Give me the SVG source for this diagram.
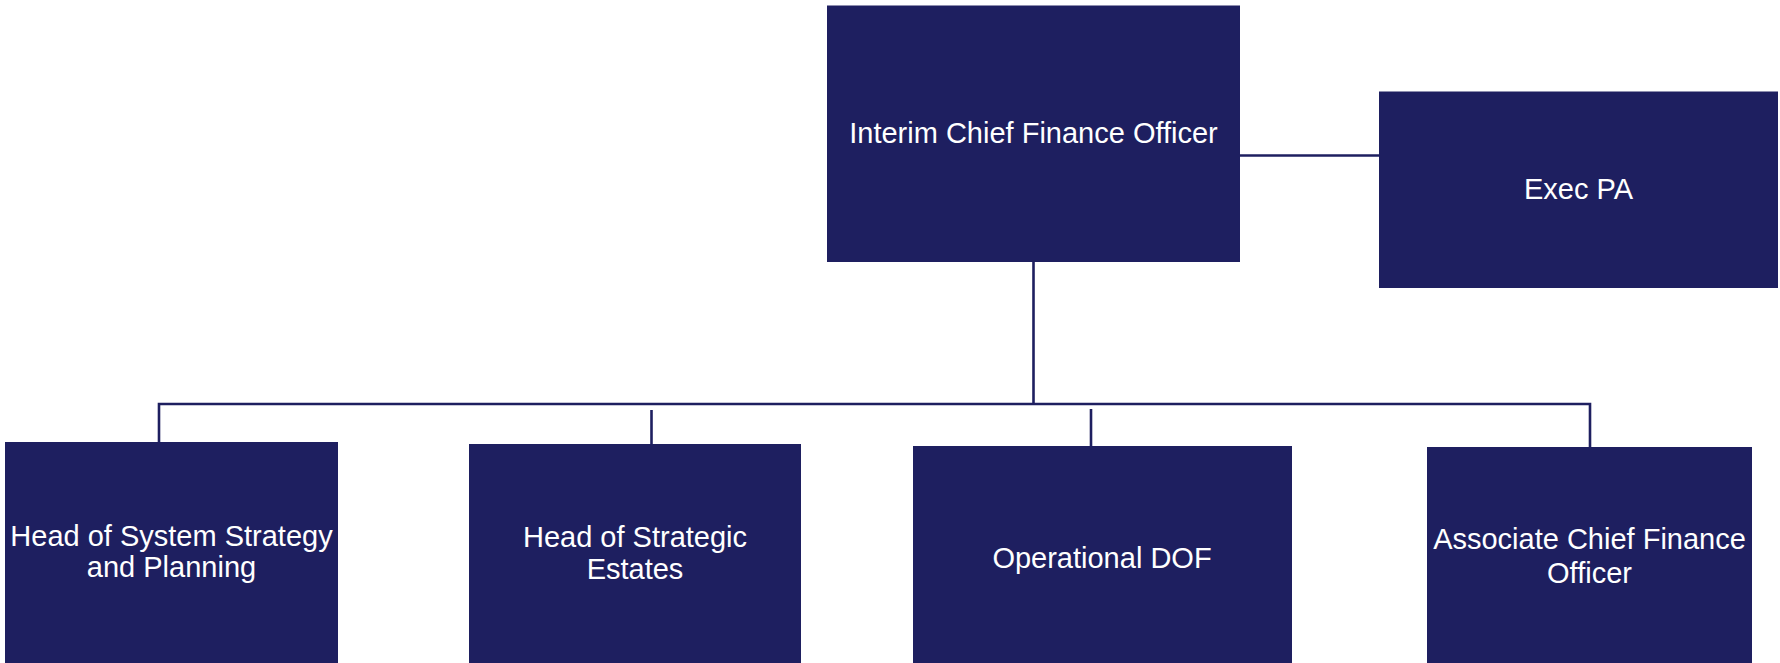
<svg xmlns="http://www.w3.org/2000/svg" width="1780" height="663" viewBox="0 0 1780 663">
<style>
.box{fill:#1e1f60;}
.lbl{fill:#ffffff;font-family:"Liberation Sans",Arial,sans-serif;font-size:29px;text-anchor:middle;}
.con{stroke:#1e1f60;stroke-width:2.6;fill:none;}
</style>
<rect width="1780" height="663" fill="#ffffff"/>
<g id="connectors">
<line class="con" x1="1240" y1="155.5" x2="1379" y2="155.5"/>
<line class="con" x1="1033.5" y1="262" x2="1033.5" y2="404"/>
<path class="con" d="M159,442 V404 H1590 V447"/>
<line class="con" x1="651.5" y1="410" x2="651.5" y2="444"/>
<line class="con" x1="1091" y1="409" x2="1091" y2="446"/>
</g>
<g id="cfo">
<rect class="box" x="827" y="5.5" width="413" height="256.5"/>
<text class="lbl" x="1033.5" y="143">Interim Chief Finance Officer</text>
</g>
<g id="execpa">
<rect class="box" x="1379" y="91.5" width="399" height="196.5"/>
<text class="lbl" x="1578.5" y="199">Exec PA</text>
</g>
<g id="head-system">
<rect class="box" x="5" y="442" width="333" height="240"/>
<text class="lbl" x="171.5" y="546">Head of System Strategy</text>
<text class="lbl" x="171.5" y="577">and Planning</text>
</g>
<g id="head-estates">
<rect class="box" x="469" y="444" width="332" height="240"/>
<text class="lbl" x="635" y="547">Head of Strategic</text>
<text class="lbl" x="635" y="579">Estates</text>
</g>
<g id="operational-dof">
<rect class="box" x="913" y="446" width="379" height="240"/>
<text class="lbl" x="1102" y="568">Operational DOF</text>
</g>
<g id="associate-cfo">
<rect class="box" x="1427" y="447" width="325" height="240"/>
<text class="lbl" x="1589.5" y="549">Associate Chief Finance</text>
<text class="lbl" x="1589.5" y="583">Officer</text>
</g>
</svg>
